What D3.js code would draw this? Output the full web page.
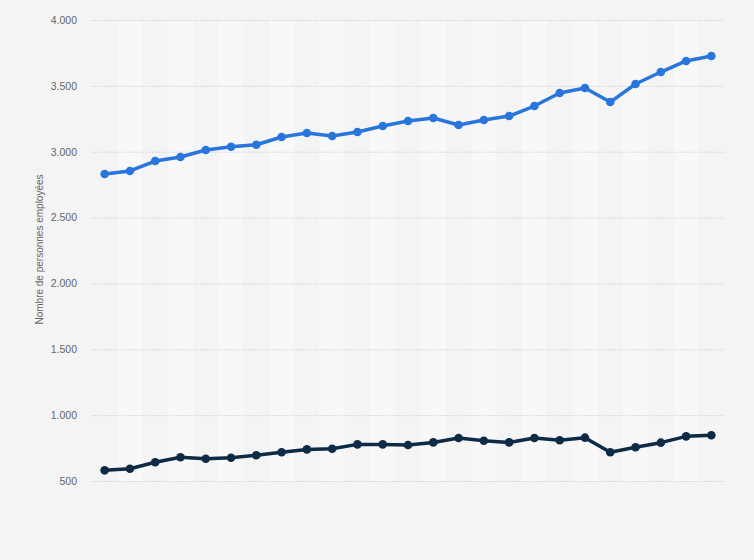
<!DOCTYPE html>
<html>
<head>
<meta charset="utf-8">
<script src="https://cdn.jsdelivr.net/npm/d3@7"></script>
<style>
  body { margin: 0; background: #f4f4f4; }
  #wrapper { width: 754px; height: 560px; }
</style>
</head>
<body>
<div id="wrapper"></div>
<script>
// ---------- DATA ----------------------------------------------------
const years = d3.range(25).map((i) => "p" + i);
const seriesTotal = [2831, 2854, 2929, 2960, 3013, 3038, 3053, 3112, 3142, 3119,
  3150, 3195, 3233, 3256, 3203, 3241, 3271, 3347, 3446, 3484,
  3377, 3514, 3605, 3689, 3727];
const seriesPart = [581, 593, 642, 680, 669, 677, 695, 718, 740, 745,
  778, 778, 773, 793, 826, 806, 793, 826, 809, 829,
  718, 756, 791, 839, 847];
const yTicks = [500, 1000, 1500, 2000, 2500, 3000, 3500, 4000];
const yLabel = "Nombre de personnes employées";

// ---------- DIMENSIONS ----------------------------------------------
const dimensions = {
  width: 754,
  height: 560,
  margin: { top: 20, right: 30, bottom: 79, left: 92 },
};
dimensions.boundedWidth = dimensions.width - dimensions.margin.left - dimensions.margin.right;
dimensions.boundedHeight = dimensions.height - dimensions.margin.top - dimensions.margin.bottom;

const svg = d3.select("#wrapper").append("svg")
  .attr("width", dimensions.width)
  .attr("height", dimensions.height)
  .style("font-family", "Arial, 'Liberation Sans', sans-serif");

svg.append("rect")
  .attr("width", dimensions.width)
  .attr("height", dimensions.height)
  .attr("fill", "#f4f4f4");

const bounds = svg.append("g")
  .attr("transform", `translate(${dimensions.margin.left},${dimensions.margin.top})`);

// ---------- SCALES --------------------------------------------------
const xScale = d3.scaleBand()
  .domain(years)
  .range([0, dimensions.boundedWidth]);
const xCenter = (d) => xScale(d) + xScale.bandwidth() / 2;

const yScale = d3.scaleLinear()
  .domain([500, 4000])
  .range([dimensions.boundedHeight, 0]);

// alternating column stripes
bounds.append("g").selectAll("rect")
  .data(years.filter((d, i) => i % 2 === 1))
  .join("rect")
  .attr("x", (d) => xScale(d))
  .attr("y", 0)
  .attr("width", xScale.bandwidth())
  .attr("height", dimensions.boundedHeight)
  .attr("fill", "#f8f8f8");

// ---------- Y AXIS --------------------------------------------------
const yAxisGenerator = d3.axisLeft(yScale)
  .tickValues(yTicks)
  .tickSize(-dimensions.boundedWidth)
  .tickPadding(15)
  .tickFormat((d) => d3.format(",")(d).replace(/,/g, "."));

const yAxis = bounds.append("g").call(yAxisGenerator);
yAxis.select(".domain").remove();
yAxis.selectAll(".tick line")
  .attr("stroke", "#cfcfcf")
  .attr("stroke-dasharray", "1.5 1.5");
yAxis.selectAll(".tick text")
  .attr("fill", "#666")
  .style("font-size", "10.5px");

svg.append("text")
  .attr("transform", `translate(43, ${dimensions.margin.top + dimensions.boundedHeight / 2 - 1}) rotate(-90)`)
  .attr("text-anchor", "middle")
  .attr("fill", "#666")
  .style("font-size", "10px")
  .text(yLabel);

// ---------- LINES ---------------------------------------------------
const drawSeries = (values, color) => {
  const lineGenerator = d3.line()
    .x((d, i) => xCenter(years[i]))
    .y((d) => yScale(d));

  bounds.append("path")
    .datum(values)
    .attr("d", lineGenerator)
    .attr("fill", "none")
    .attr("stroke", color)
    .attr("stroke-width", 3.5)
    .attr("stroke-linejoin", "round");

  bounds.append("g").selectAll("circle")
    .data(values)
    .join("circle")
    .attr("cx", (d, i) => xCenter(years[i]))
    .attr("cy", (d) => yScale(d))
    .attr("r", 4.3)
    .attr("fill", color);
};

drawSeries(seriesTotal, "#2876dd");
drawSeries(seriesPart, "#0d2a46");
</script>
</body>
</html>
